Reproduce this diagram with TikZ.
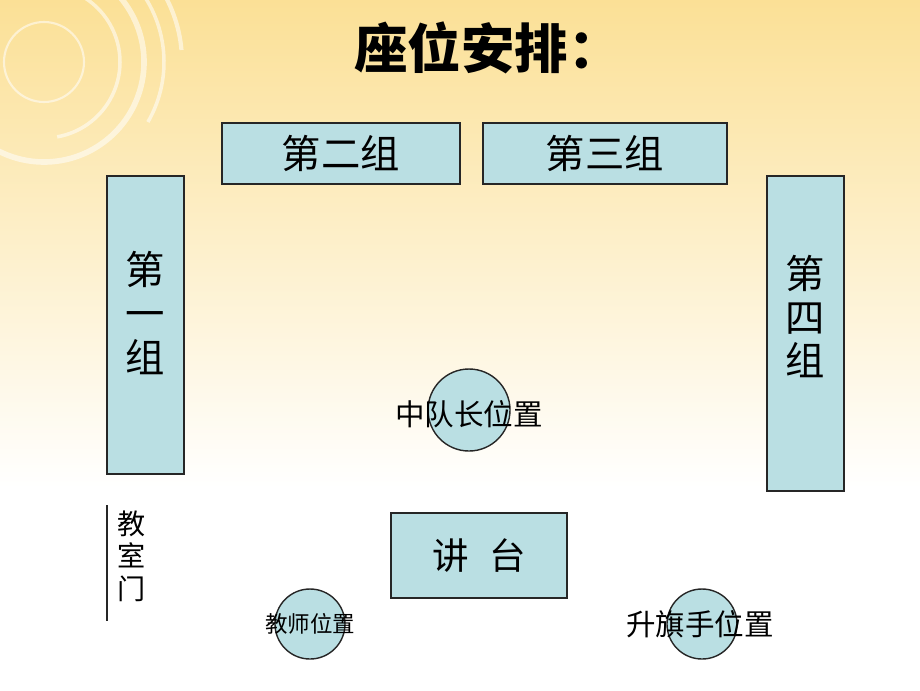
\documentclass[tikz,border=0pt]{standalone}
\usepackage{xcolor}
\usepackage{fontspec}
\usepackage{tikz}
\usetikzlibrary{shapes,positioning}
\newfontfamily\cjk{Noto Sans CJK SC}
\definecolor{seatblue}{RGB}{186,223,227}
\definecolor{sunyellow}{RGB}{251,224,150}

\begin{document}
\begin{tikzpicture}[
  groupbox/.style={rectangle, draw=black!85, line width=1pt, fill=seatblue},
  seatdot/.style={circle, draw=black!85, line width=1pt, fill=seatblue, minimum size=1.75cm, inner sep=0pt},
  ring/.style={white, opacity=0.55, line width=2.5pt}
]
\useasboundingbox (0,0) rectangle (23,-17.25);
% background
\fill[white] (0,0) rectangle (23,-17.25);
\shade[top color=sunyellow, bottom color=white] (0,0) rectangle (23,-12.2);
\draw[ring, line width=1.5pt] (1.1,-1.55) circle (1.0);
\draw[ring] (1.1,-1.55) ++(120:1.9) arc (120:-80:1.9);
\draw[ring, line width=4pt] (1.1,-1.55) ++(70:2.5) arc (70:-125:2.5);
\draw[ring] (1.1,-1.55) ++(45:3.0) arc (45:-30:3.0);
\draw[ring, line width=3pt] (1.1,-1.55) ++(35:3.45) arc (35:5:3.45);

% title
\node (title) at (12.2,-1.2) {\cjk\bfseries\fontsize{38}{40}\selectfont 座位安排：};

% groups
\node (g2) [groupbox, minimum width=5.95cm, minimum height=1.525cm] at (8.525,-3.84) {\cjk\fontsize{28}{30}\selectfont 第二组};
\node (g3) [groupbox, minimum width=6.1cm, minimum height=1.525cm] at (15.125,-3.84) {\cjk\fontsize{28}{30}\selectfont 第三组};
\node (g1) [groupbox, minimum width=1.925cm, minimum height=7.45cm] at (3.64,-8.125) {};
\node (g1text) [align=center, font=\cjk\fontsize{28}{31}\selectfont] at ([yshift=0.3cm]g1.center) {第\\一\\组};
\node (g4) [groupbox, minimum width=1.925cm, minimum height=7.875cm] at (20.14,-8.34) {};
\node (g4text) [align=center, font=\cjk\fontsize{28}{31}\selectfont] at ([yshift=0.42cm]g4.center) {第\\四\\组};

% desk and seats
\node (desk) [groupbox, minimum width=4.4cm, minimum height=2.125cm] at (11.975,-13.89) {\cjk\fontsize{26}{28}\selectfont 讲\hspace{0.55em}台};
\node (leader) [seatdot, minimum size=2.05cm, label={[font=\cjk\fontsize{21}{23}\selectfont, yshift=-0.1cm]center:中队长位置}] at (11.725,-10.25) {};
\node (teacher) [seatdot, label={[font=\cjk\fontsize{16}{18}\selectfont]center:教师位置}] at (7.75,-15.6) {};
\node (flag) [seatdot, label={[font=\cjk\fontsize{21}{23}\selectfont, xshift=-0.05cm]center:升旗手位置}] at (17.55,-15.6) {};

% door
\coordinate (doortop) at (2.675,-12.625);
\coordinate (doorbot) at (2.675,-15.525);
\draw[line width=1pt, black!85] (doortop) -- (doorbot);
\node (door) [align=center, font=\cjk\fontsize{20}{23}\selectfont] at (3.28,-13.9) {教\\室\\门};
\end{tikzpicture}
\end{document}
